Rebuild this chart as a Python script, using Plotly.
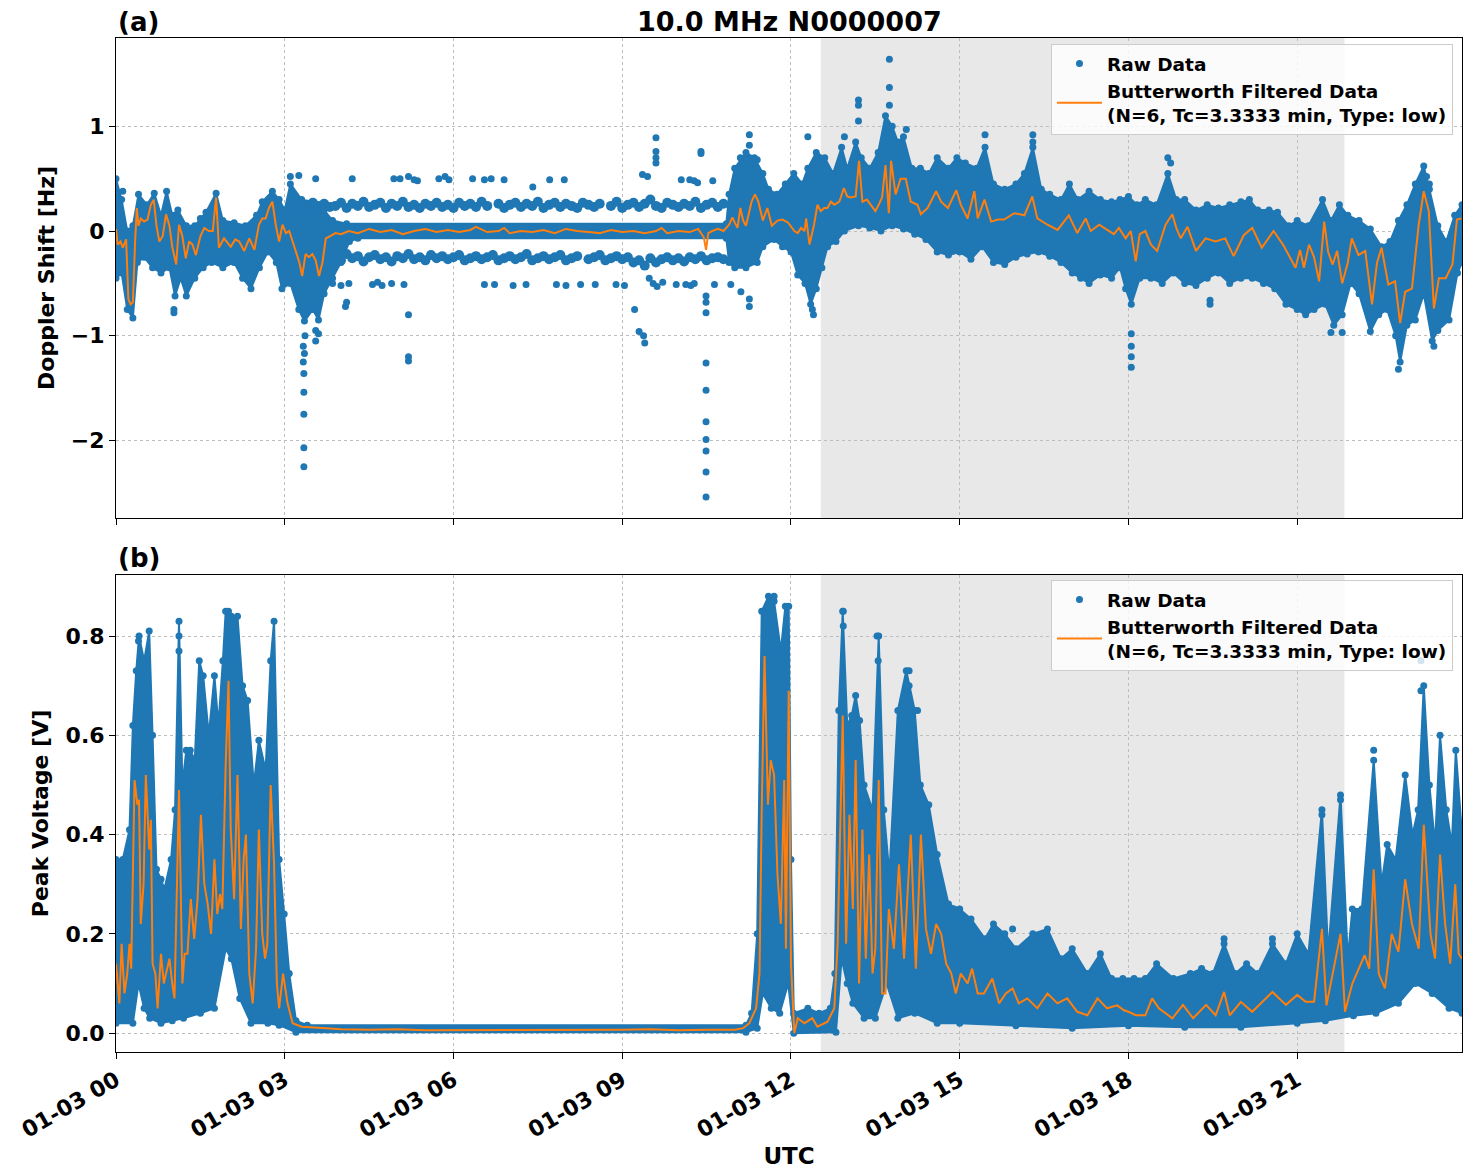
import plotly.graph_objects as go

# ---------------- data (hours after 01-03 00:00 UTC, value) ----------------
# Panel (a): Doppler shift [Hz]
dop_filtered = [
    (0.00, 0.02), (0.03, -0.13), (0.08, -0.10), (0.12, -0.16), (0.18, -0.08), (0.22, -0.65),
    (0.26, -0.70), (0.30, -0.68), (0.34, -0.10), (0.37, 0.22), (0.40, 0.05), (0.44, 0.12),
    (0.50, 0.09), (0.56, 0.11), (0.62, 0.25), (0.67, 0.30), (0.72, 0.05), (0.77, -0.10),
    (0.83, -0.05), (0.89, 0.16), (0.95, 0.05), (1.00, -0.15), (1.07, -0.32), (1.12, 0.06),
    (1.18, -0.05), (1.24, -0.26), (1.30, -0.10), (1.36, -0.13), (1.42, -0.23), (1.50, -0.05),
    (1.57, 0.03), (1.65, 0.00), (1.72, 0.00), (1.78, 0.32), (1.83, -0.16), (1.92, -0.07),
    (2.04, -0.15), (2.12, -0.08), (2.19, -0.10), (2.28, -0.19), (2.37, -0.07), (2.46, -0.18),
    (2.54, 0.06), (2.60, 0.12), (2.66, 0.12), (2.72, 0.22), (2.78, 0.28), (2.84, 0.06),
    (2.90, -0.10), (2.96, 0.06), (3.02, -0.02), (3.08, 0.00), (3.14, -0.10), (3.20, -0.19),
    (3.26, -0.30), (3.31, -0.43), (3.37, -0.22), (3.43, -0.25), (3.49, -0.22), (3.55, -0.28),
    (3.61, -0.43), (3.67, -0.30), (3.73, -0.07), (3.80, -0.05), (3.90, -0.02), (4.00, -0.03),
    (4.14, 0.00), (4.30, -0.02), (4.50, 0.02), (4.70, -0.01), (4.90, 0.01), (5.10, -0.03),
    (5.30, 0.00), (5.50, 0.02), (5.70, -0.01), (5.90, 0.01), (6.10, -0.01), (6.30, 0.01),
    (6.40, 0.04), (6.60, -0.01), (6.80, 0.00), (6.90, 0.03), (7.00, -0.02), (7.20, 0.00),
    (7.40, -0.01), (7.60, 0.01), (7.80, -0.02), (8.00, 0.02), (8.20, 0.00), (8.40, -0.01),
    (8.60, -0.02), (8.80, 0.01), (9.00, -0.01), (9.20, 0.00), (9.40, -0.02), (9.60, 0.00),
    (9.70, 0.03), (9.80, -0.02), (10.00, 0.00), (10.20, -0.01), (10.35, 0.02), (10.45, -0.06),
    (10.49, -0.18), (10.53, -0.02), (10.60, 0.00), (10.70, 0.02), (10.80, 0.00), (10.90, 0.06),
    (10.96, 0.13), (11.00, 0.08), (11.05, 0.03), (11.10, 0.22), (11.15, 0.10), (11.20, 0.05),
    (11.30, 0.28), (11.36, 0.35), (11.42, 0.28), (11.50, 0.10), (11.58, 0.22), (11.66, 0.05),
    (11.76, 0.10), (11.85, 0.11), (11.95, 0.08), (12.06, 0.00), (12.12, -0.02), (12.18, 0.03),
    (12.24, 0.00), (12.27, 0.12), (12.33, -0.13), (12.41, 0.06), (12.47, 0.25), (12.53, 0.19),
    (12.59, 0.22), (12.65, 0.22), (12.71, 0.28), (12.77, 0.25), (12.86, 0.28), (12.94, 0.41),
    (13.00, 0.33), (13.06, 0.32), (13.15, 0.33), (13.21, 0.67), (13.27, 0.28), (13.35, 0.30),
    (13.42, 0.25), (13.50, 0.19), (13.56, 0.25), (13.62, 0.32), (13.68, 0.63), (13.74, 0.17),
    (13.78, 0.67), (13.86, 0.35), (13.95, 0.50), (14.04, 0.50), (14.13, 0.28), (14.25, 0.25),
    (14.31, 0.16), (14.43, 0.22), (14.58, 0.38), (14.67, 0.28), (14.79, 0.22), (14.94, 0.39),
    (15.02, 0.25), (15.14, 0.12), (15.26, 0.38), (15.32, 0.12), (15.44, 0.30), (15.56, 0.09),
    (15.68, 0.11), (15.79, 0.11), (15.97, 0.17), (16.15, 0.15), (16.29, 0.33), (16.38, 0.12),
    (16.56, 0.06), (16.74, 0.01), (16.94, 0.15), (17.09, -0.02), (17.24, 0.12), (17.33, 0.00),
    (17.48, 0.06), (17.60, 0.02), (17.74, -0.03), (17.83, 0.03), (17.95, -0.07), (18.04, 0.00),
    (18.13, -0.29), (18.20, -0.03), (18.30, 0.00), (18.40, -0.13), (18.51, -0.19), (18.66, 0.06),
    (18.78, 0.16), (18.85, 0.03), (18.93, -0.07), (19.05, 0.04), (19.20, -0.19), (19.37, -0.07),
    (19.55, -0.10), (19.72, -0.07), (19.87, -0.24), (20.05, -0.04), (20.20, 0.03), (20.37, -0.16),
    (20.58, 0.00), (20.76, -0.14), (20.97, -0.35), (21.05, -0.18), (21.12, -0.35), (21.21, -0.13),
    (21.30, -0.25), (21.39, -0.48), (21.48, 0.09), (21.55, -0.20), (21.63, -0.32), (21.71, -0.19),
    (21.80, -0.50), (21.90, -0.30), (21.97, -0.07), (22.09, -0.23), (22.21, -0.19), (22.33, -0.70),
    (22.42, -0.30), (22.50, -0.16), (22.62, -0.51), (22.74, -0.48), (22.83, -0.88), (22.92, -0.58),
    (23.04, -0.55), (23.16, 0.06), (23.25, 0.38), (23.34, 0.19), (23.43, -0.74), (23.52, -0.45),
    (23.64, -0.45), (23.76, -0.32), (23.84, 0.11), (23.92, 0.12),
]
dop_raw_upper = [
    (0.00, 0.50), (0.10, 0.30), (0.20, 0.00), (0.30, 0.05), (0.40, 0.35), (0.55, 0.25),
    (0.68, 0.36), (0.80, 0.15), (0.90, 0.38), (1.00, 0.15), (1.10, 0.20), (1.25, 0.05),
    (1.40, 0.05), (1.50, 0.12), (1.60, 0.18), (1.78, 0.36), (1.90, 0.10), (2.10, 0.08),
    (2.30, 0.05), (2.50, 0.15), (2.60, 0.28), (2.78, 0.38), (2.90, 0.30), (3.00, 0.20),
    (3.10, 0.45), (3.30, 0.30), (3.50, 0.28), (3.70, 0.20), (3.85, 0.10), (4.10, 0.07),
    (10.85, 0.07), (10.90, 0.35), (11.00, 0.60), (11.20, 0.75), (11.35, 0.70), (11.50, 0.55),
    (11.60, 0.40), (11.75, 0.35), (11.90, 0.45), (12.05, 0.55), (12.20, 0.45), (12.30, 0.60),
    (12.45, 0.75), (12.60, 0.70), (12.75, 0.55), (12.90, 0.80), (13.00, 0.60), (13.15, 0.85),
    (13.25, 0.70), (13.40, 0.60), (13.55, 0.75), (13.68, 1.10), (13.80, 1.00), (13.90, 0.85),
    (14.00, 0.90), (14.15, 0.60), (14.30, 0.60), (14.45, 0.55), (14.60, 0.70), (14.80, 0.60),
    (14.95, 0.70), (15.10, 0.65), (15.30, 0.60), (15.45, 0.80), (15.60, 0.45), (15.80, 0.40),
    (16.00, 0.45), (16.15, 0.55), (16.30, 0.80), (16.45, 0.40), (16.60, 0.35), (16.80, 0.30),
    (16.95, 0.45), (17.10, 0.30), (17.30, 0.38), (17.50, 0.30), (17.70, 0.28), (17.85, 0.30),
    (18.00, 0.33), (18.15, 0.25), (18.30, 0.30), (18.50, 0.25), (18.70, 0.55), (18.85, 0.30),
    (19.00, 0.30), (19.20, 0.20), (19.40, 0.25), (19.60, 0.22), (19.80, 0.25), (20.00, 0.28),
    (20.15, 0.30), (20.30, 0.20), (20.50, 0.20), (20.65, 0.18), (20.85, 0.05), (21.00, 0.10),
    (21.20, 0.05), (21.45, 0.30), (21.60, 0.10), (21.75, 0.25), (21.90, 0.15), (22.10, 0.10),
    (22.30, 0.02), (22.50, -0.15), (22.65, -0.10), (22.80, 0.10), (22.95, 0.25), (23.10, 0.45),
    (23.25, 0.62), (23.35, 0.40), (23.50, 0.05), (23.65, -0.10), (23.80, 0.15), (23.93, 0.25),
]
dop_raw_lower = [
    (0.00, -0.45), (0.10, -0.40), (0.20, -0.75), (0.30, -0.83), (0.38, -0.30), (0.50, -0.25),
    (0.65, -0.35), (0.80, -0.40), (0.95, -0.35), (1.05, -0.62), (1.15, -0.45), (1.25, -0.62),
    (1.40, -0.45), (1.55, -0.35), (1.70, -0.30), (1.90, -0.35), (2.10, -0.30), (2.25, -0.45),
    (2.40, -0.55), (2.55, -0.35), (2.70, -0.20), (2.85, -0.30), (2.95, -0.55), (3.10, -0.50),
    (3.25, -0.75), (3.35, -0.86), (3.50, -0.75), (3.60, -0.85), (3.70, -0.60), (3.85, -0.45),
    (4.00, -0.30), (4.15, -0.10), (4.30, -0.07), (10.85, -0.07), (10.90, -0.30), (11.00, -0.35),
    (11.20, -0.35), (11.40, -0.30), (11.50, -0.15), (11.70, -0.08), (11.85, -0.15), (12.00, -0.20),
    (12.12, -0.42), (12.25, -0.50), (12.35, -0.70), (12.45, -0.55), (12.55, -0.35), (12.65, -0.15),
    (12.80, -0.10), (12.95, 0.00), (13.20, 0.05), (13.40, 0.03), (13.60, 0.00), (13.80, 0.05),
    (14.00, 0.02), (14.20, -0.03), (14.40, -0.08), (14.60, -0.20), (14.80, -0.23), (15.00, -0.20),
    (15.20, -0.27), (15.40, -0.15), (15.60, -0.30), (15.80, -0.32), (16.00, -0.25), (16.20, -0.22),
    (16.40, -0.20), (16.60, -0.24), (16.80, -0.30), (17.00, -0.40), (17.15, -0.45), (17.30, -0.50),
    (17.50, -0.42), (17.70, -0.45), (17.85, -0.35), (17.95, -0.55), (18.05, -0.70), (18.20, -0.45),
    (18.40, -0.45), (18.60, -0.50), (18.80, -0.40), (19.00, -0.50), (19.20, -0.52), (19.40, -0.45),
    (19.60, -0.40), (19.80, -0.50), (20.00, -0.45), (20.20, -0.45), (20.40, -0.50), (20.60, -0.55),
    (20.80, -0.70), (21.00, -0.75), (21.15, -0.80), (21.30, -0.75), (21.50, -0.70), (21.65, -0.90),
    (21.80, -0.80), (21.95, -0.50), (22.10, -0.60), (22.30, -0.96), (22.45, -0.80), (22.60, -0.75),
    (22.75, -1.00), (22.83, -1.25), (22.95, -0.90), (23.10, -0.85), (23.25, -0.60), (23.40, -1.05),
    (23.50, -0.95), (23.70, -0.85), (23.85, -0.40), (23.93, -0.30),
]
# quantised side bands of raw Doppler samples (about +/-0.25 Hz) during the quiet night
dop_row_plus = [
    (3.30, 0.25), (3.40, 0.22), (3.50, 0.27), (3.60, 0.24), (3.70, 0.26), (3.80, 0.23),
    (3.90, 0.24), (4.00, 0.27), (4.10, 0.22), (4.20, 0.26), (4.30, 0.24), (4.40, 0.28), (4.50, 0.23),
    (4.60, 0.25), (4.70, 0.27), (4.80, 0.22), (4.90, 0.26), (5.00, 0.24), (5.10, 0.28), (5.20, 0.23),
    (5.30, 0.25), (5.40, 0.22), (5.50, 0.26), (5.60, 0.24), (5.70, 0.27), (5.80, 0.23), (5.90, 0.25),
    (6.00, 0.22), (6.10, 0.27), (6.20, 0.24), (6.30, 0.26), (6.40, 0.23), (6.50, 0.28), (6.60, 0.24),
    (6.80, 0.26), (6.90, 0.22), (7.00, 0.25), (7.10, 0.27), (7.20, 0.23), (7.30, 0.26), (7.40, 0.24),
    (7.50, 0.28), (7.60, 0.22), (7.70, 0.25), (7.80, 0.27), (7.90, 0.23), (8.00, 0.26), (8.10, 0.24),
    (8.20, 0.22), (8.30, 0.27), (8.40, 0.25), (8.50, 0.23), (8.60, 0.26), (8.80, 0.24), (8.90, 0.28),
    (9.00, 0.22), (9.10, 0.25), (9.20, 0.27), (9.30, 0.23), (9.40, 0.26), (9.50, 0.30), (9.60, 0.24),
    (9.70, 0.22), (9.80, 0.27), (9.90, 0.25), (10.00, 0.23), (10.10, 0.26), (10.20, 0.24), (10.30, 0.28),
    (10.40, 0.22), (10.50, 0.25), (10.60, 0.27), (10.70, 0.23), (10.80, 0.26),
]
dop_row_minus = [
    (3.80, -0.26), (3.90, -0.24), (4.00, -0.28), (4.10, -0.22), (4.20, -0.26), (4.30, -0.24), (4.40, -0.29), (4.50, -0.25),
    (4.60, -0.23), (4.70, -0.27), (4.80, -0.25), (4.90, -0.29), (5.00, -0.24), (5.10, -0.26), (5.20, -0.22),
    (5.30, -0.27), (5.40, -0.25), (5.50, -0.28), (5.60, -0.23), (5.70, -0.26), (5.80, -0.24), (5.90, -0.27),
    (6.00, -0.25), (6.10, -0.23), (6.20, -0.28), (6.30, -0.26), (6.40, -0.24), (6.50, -0.27), (6.60, -0.25),
    (6.70, -0.23), (6.80, -0.28), (6.90, -0.26), (7.00, -0.24), (7.10, -0.27), (7.20, -0.25), (7.30, -0.22),
    (7.40, -0.28), (7.50, -0.26), (7.60, -0.24), (7.70, -0.27), (7.80, -0.25), (7.90, -0.23), (8.00, -0.28),
    (8.10, -0.26), (8.20, -0.24), (8.40, -0.27), (8.50, -0.25), (8.60, -0.23), (8.70, -0.28), (8.80, -0.26),
    (8.90, -0.24), (9.00, -0.27), (9.10, -0.25), (9.20, -0.30), (9.30, -0.28), (9.40, -0.33), (9.50, -0.26),
    (9.60, -0.30), (9.70, -0.27), (9.80, -0.25), (9.90, -0.28), (10.00, -0.26), (10.10, -0.29), (10.20, -0.25),
    (10.30, -0.27), (10.40, -0.24), (10.50, -0.28), (10.60, -0.26), (10.70, -0.25), (10.80, -0.27),
]
dop_raw_scatter = [
    (0.12, 0.38), (1.03, -0.78), (1.03, -0.75), (3.10, 0.52), (3.25, 0.53), (3.55, 0.50),
    (3.34, -2.25), (3.34, -2.07), (3.34, -1.75), (3.34, -1.54), (3.34, -1.36), (3.33, -1.25),
    (3.35, -1.17), (3.33, -1.10), (3.36, -1.00), (3.55, -1.05), (3.55, -0.95), (3.60, -0.98),
    (4.08, -0.72), (4.10, -0.68), (4.20, 0.50), (4.94, 0.50), (5.05, 0.50), (5.20, 0.52),
    (5.30, 0.49), (5.36, 0.48), (5.74, 0.50), (5.85, 0.52), (5.92, 0.49),
    (3.85, -0.50), (4.00, -0.52), (4.14, -0.50), (4.56, -0.51), (4.65, -0.49), (4.73, -0.52),
    (4.90, -0.50), (5.12, -0.51), (5.20, -0.80), (5.20, -1.20), (5.20, -1.24),
    (6.34, 0.50), (6.55, 0.49), (6.67, 0.50), (6.90, 0.49), (7.41, 0.42), (7.71, 0.49),
    (7.97, 0.49), (9.36, 0.54), (9.45, 0.52), (10.05, 0.49), (10.20, 0.49), (10.28, 0.48),
    (10.34, 0.46), (10.61, 0.48), (9.60, 0.89), (9.60, 0.76), (9.60, 0.70), (9.60, 0.65),
    (10.40, 0.76), (10.40, 0.74),
    (6.55, -0.51), (6.73, -0.51), (7.06, -0.52), (7.29, -0.51), (7.83, -0.51), (8.00, -0.52),
    (8.26, -0.51), (8.52, -0.51), (8.89, -0.51), (9.04, -0.52), (9.48, -0.45), (9.55, -0.50),
    (9.62, -0.53), (9.72, -0.49), (9.96, -0.51), (10.13, -0.51), (10.22, -0.52), (10.28, -0.50),
    (10.64, -0.51), (10.93, -0.51), (11.11, -0.58),
    (9.22, -0.75), (9.30, -0.96), (9.38, -1.00), (9.40, -1.07),
    (10.49, -0.62), (10.49, -0.68), (10.49, -0.78), (10.49, -1.26), (10.49, -1.52), (10.49, -1.82),
    (10.49, -1.99), (10.49, -2.10), (10.49, -2.30), (10.49, -2.54),
    (11.26, 0.92), (11.26, 0.82), (11.26, -0.72), (11.26, -0.65), (11.10, 0.70), (11.40, 0.68),
    (12.30, 0.90), (12.95, 0.90), (13.20, 1.25), (13.20, 1.20), (13.20, 1.05),
    (13.75, 1.64), (13.75, 1.37), (13.75, 1.20), (14.05, 0.97), (15.45, 0.92), (16.30, 0.92),
    (16.30, 0.85), (12.40, -0.80), (12.38, -0.75),
    (18.05, -1.30), (18.05, -1.20), (18.05, -1.10), (18.05, -0.98), (18.70, 0.70), (18.75, 0.65),
    (19.45, -0.70), (19.45, -0.66), (21.60, -0.97), (21.80, -0.97), (22.80, -1.32), (23.30, 0.52),
    (23.35, 0.45), (23.43, -1.10),
]

# Panel (b): peak voltage [V]
volt_filtered = [
    (0.00, 0.14), (0.06, 0.06), (0.10, 0.18), (0.15, 0.08), (0.20, 0.12), (0.24, 0.18),
    (0.27, 0.13), (0.33, 0.51), (0.38, 0.46), (0.41, 0.47), (0.44, 0.22), (0.49, 0.30),
    (0.53, 0.52), (0.59, 0.37), (0.62, 0.43), (0.65, 0.14), (0.70, 0.12), (0.74, 0.05),
    (0.80, 0.16), (0.85, 0.10), (0.89, 0.12), (0.95, 0.15), (1.00, 0.10), (1.04, 0.07),
    (1.12, 0.49), (1.18, 0.10), (1.22, 0.16), (1.27, 0.16), (1.33, 0.27), (1.39, 0.19),
    (1.45, 0.27), (1.51, 0.44), (1.57, 0.30), (1.63, 0.26), (1.69, 0.20), (1.75, 0.35),
    (1.80, 0.24), (1.85, 0.28), (1.89, 0.25), (1.95, 0.54), (2.00, 0.71), (2.04, 0.41),
    (2.10, 0.27), (2.16, 0.52), (2.22, 0.21), (2.27, 0.35), (2.31, 0.40), (2.37, 0.12),
    (2.43, 0.06), (2.49, 0.17), (2.54, 0.41), (2.60, 0.20), (2.65, 0.15), (2.69, 0.18),
    (2.75, 0.50), (2.81, 0.34), (2.86, 0.10), (2.90, 0.05), (2.97, 0.12), (3.05, 0.06),
    (3.14, 0.02), (3.30, 0.013), (3.60, 0.011), (4.00, 0.008), (4.50, 0.007), (5.00, 0.008),
    (5.50, 0.006), (6.00, 0.006), (7.00, 0.006), (8.00, 0.006), (9.00, 0.007), (9.50, 0.008),
    (10.00, 0.006), (10.50, 0.007), (11.00, 0.007), (11.15, 0.010), (11.26, 0.020), (11.38, 0.05),
    (11.44, 0.12), (11.48, 0.45), (11.53, 0.76), (11.59, 0.46), (11.64, 0.55), (11.70, 0.52),
    (11.76, 0.32), (11.82, 0.22), (11.88, 0.51), (11.91, 0.17), (11.96, 0.69), (12.00, 0.14),
    (12.06, 0.00), (12.12, 0.03), (12.24, 0.02), (12.38, 0.03), (12.47, 0.013), (12.65, 0.023),
    (12.77, 0.05), (12.83, 0.18), (12.89, 0.45), (12.92, 0.64), (12.98, 0.18), (13.04, 0.44),
    (13.10, 0.25), (13.15, 0.55), (13.21, 0.10), (13.27, 0.41), (13.33, 0.15), (13.39, 0.36),
    (13.45, 0.12), (13.50, 0.17), (13.56, 0.51), (13.62, 0.08), (13.68, 0.08), (13.74, 0.25),
    (13.83, 0.17), (13.92, 0.34), (14.01, 0.15), (14.13, 0.40), (14.22, 0.13), (14.31, 0.40),
    (14.40, 0.21), (14.49, 0.16), (14.58, 0.22), (14.67, 0.20), (14.76, 0.14), (14.85, 0.12),
    (14.93, 0.08), (15.02, 0.12), (15.14, 0.10), (15.22, 0.13), (15.32, 0.08), (15.43, 0.08),
    (15.58, 0.11), (15.70, 0.06), (15.82, 0.08), (15.94, 0.09), (16.05, 0.06), (16.20, 0.07),
    (16.38, 0.05), (16.56, 0.08), (16.74, 0.06), (16.91, 0.07), (17.09, 0.043), (17.27, 0.036),
    (17.45, 0.07), (17.62, 0.05), (17.80, 0.056), (17.92, 0.046), (18.00, 0.043), (18.13, 0.036),
    (18.30, 0.036), (18.42, 0.07), (18.54, 0.05), (18.78, 0.03), (18.97, 0.057), (19.15, 0.03),
    (19.38, 0.057), (19.55, 0.036), (19.70, 0.083), (19.80, 0.036), (20.00, 0.063), (20.20, 0.043),
    (20.56, 0.083), (20.80, 0.057), (21.00, 0.077), (21.15, 0.063), (21.30, 0.063), (21.44, 0.21),
    (21.52, 0.056), (21.77, 0.20), (21.85, 0.043), (21.98, 0.10), (22.20, 0.157), (22.28, 0.13),
    (22.36, 0.33), (22.45, 0.12), (22.56, 0.09), (22.68, 0.20), (22.80, 0.164), (22.92, 0.31),
    (23.04, 0.22), (23.16, 0.17), (23.25, 0.42), (23.37, 0.20), (23.45, 0.15), (23.54, 0.36),
    (23.63, 0.22), (23.72, 0.14), (23.81, 0.30), (23.87, 0.16), (23.93, 0.15),
]
volt_raw_upper = [
    (0.00, 0.35), (0.12, 0.35), (0.24, 0.41), (0.30, 0.62), (0.36, 0.73), (0.41, 0.80),
    (0.50, 0.75), (0.59, 0.81), (0.65, 0.60), (0.72, 0.33), (0.80, 0.31), (0.86, 0.29),
    (0.98, 0.35), (1.05, 0.45), (1.12, 0.83), (1.18, 0.50), (1.25, 0.57), (1.32, 0.57),
    (1.40, 0.55), (1.48, 0.75), (1.55, 0.72), (1.65, 0.60), (1.75, 0.72), (1.82, 0.62),
    (1.90, 0.75), (1.95, 0.85), (2.05, 0.84), (2.16, 0.84), (2.25, 0.70), (2.34, 0.67),
    (2.45, 0.50), (2.54, 0.59), (2.66, 0.53), (2.75, 0.75), (2.81, 0.83), (2.90, 0.35),
    (2.99, 0.24), (3.08, 0.12), (3.20, 0.025), (3.40, 0.016), (11.20, 0.016), (11.30, 0.04),
    (11.40, 0.20), (11.48, 0.85), (11.60, 0.88), (11.70, 0.87), (11.82, 0.77), (11.90, 0.86),
    (11.96, 0.86), (12.00, 0.35), (12.05, 0.04), (12.30, 0.05), (12.50, 0.04), (12.70, 0.05),
    (12.78, 0.12), (12.85, 0.65), (12.92, 0.85), (13.00, 0.62), (13.08, 0.64), (13.15, 0.68),
    (13.22, 0.63), (13.30, 0.50), (13.45, 0.45), (13.56, 0.80), (13.65, 0.45), (13.75, 0.32),
    (13.90, 0.65), (14.05, 0.73), (14.20, 0.65), (14.30, 0.50), (14.45, 0.46), (14.60, 0.36),
    (14.80, 0.26), (15.00, 0.25), (15.20, 0.23), (15.45, 0.19), (15.60, 0.22), (15.80, 0.20),
    (16.00, 0.17), (16.30, 0.20), (16.56, 0.21), (16.80, 0.15), (17.00, 0.17), (17.27, 0.12),
    (17.50, 0.16), (17.70, 0.11), (17.90, 0.11), (18.10, 0.11), (18.30, 0.11), (18.50, 0.14),
    (18.80, 0.11), (19.10, 0.12), (19.30, 0.13), (19.50, 0.12), (19.70, 0.18), (19.90, 0.12),
    (20.10, 0.14), (20.30, 0.12), (20.56, 0.18), (20.80, 0.14), (21.00, 0.20), (21.20, 0.16),
    (21.44, 0.45), (21.55, 0.16), (21.77, 0.48), (21.90, 0.15), (21.98, 0.25), (22.15, 0.25),
    (22.36, 0.55), (22.50, 0.30), (22.60, 0.38), (22.75, 0.35), (22.92, 0.52), (23.05, 0.40),
    (23.15, 0.45), (23.25, 0.70), (23.35, 0.50), (23.45, 0.38), (23.54, 0.60), (23.65, 0.45),
    (23.75, 0.38), (23.82, 0.57), (23.93, 0.40),
]
volt_raw_lower = [
    (0.00, 0.02), (0.30, 0.02), (0.40, 0.10), (0.50, 0.05), (0.60, 0.03), (0.80, 0.02),
    (1.00, 0.025), (1.20, 0.03), (1.50, 0.04), (1.75, 0.05), (1.95, 0.17), (2.05, 0.15),
    (2.20, 0.07), (2.40, 0.02), (2.70, 0.02), (2.90, 0.016), (3.20, 0.002), (11.20, 0.002),
    (11.40, 0.010), (11.50, 0.08), (11.65, 0.05), (11.80, 0.04), (11.95, 0.10), (12.05, 0.00),
    (12.80, 0.002), (12.90, 0.15), (13.00, 0.10), (13.10, 0.06), (13.30, 0.03), (13.50, 0.03),
    (13.70, 0.10), (13.90, 0.03), (14.20, 0.04), (14.60, 0.02), (15.00, 0.02), (16.00, 0.015),
    (17.00, 0.010), (18.00, 0.015), (19.00, 0.012), (20.00, 0.012), (21.00, 0.02), (21.50, 0.025),
    (22.00, 0.035), (22.40, 0.04), (22.80, 0.06), (23.10, 0.10), (23.40, 0.08), (23.70, 0.05),
    (23.93, 0.04),
]
volt_raw_scatter = [
    (1.12, 0.80), (1.12, 0.77), (0.40, 0.79), (2.00, 0.85), (11.70, 0.88), (12.93, 0.85),
    (12.93, 0.82), (13.53, 0.80), (13.55, 0.75), (14.10, 0.73), (14.10, 0.70), (14.25, 0.65),
    (22.36, 0.57), (23.20, 0.75), (23.20, 0.69), (21.77, 0.47), (21.44, 0.44), (15.94, 0.21),
    (14.90, 0.25), (19.70, 0.19), (20.56, 0.19),
]

event_window = (12.53, 21.84)            # shaded interval (hours)
x_tick_hours = [0, 3, 6, 9, 12, 15, 18, 21]
x_tick_labels = ["01-03 00", "01-03 03", "01-03 06", "01-03 09",
                 "01-03 12", "01-03 15", "01-03 18", "01-03 21"]
dop_ticks = [-2, -1, 0, 1]
volt_ticks = [0.0, 0.2, 0.4, 0.6, 0.8]

title_text = "10.0 MHz N0000007"
filt_name = "Butterworth Filtered Data<br>(N=6, Tc=3.3333 min, Type: low)"

# ---------------- figure ----------------
BLUE = "#1f77b4"
ORANGE = "#ff7f0e"
FONT = "DejaVu Sans"


def unzip(pairs):
    return [p[0] for p in pairs], [p[1] for p in pairs]


fig = go.Figure()


def add_panel(upper, lower, rows, extra, filtered, xa, ya, legend):
    ut, uv = unzip(upper)
    lt, lv = unzip(lower)
    # dense cloud of raw samples: area between the upper and lower raw envelopes
    fig.add_trace(go.Scatter(x=ut + lt[::-1], y=uv + lv[::-1], fill="toself", mode="lines",
                             fillcolor=BLUE, line=dict(color=BLUE, width=2),
                             showlegend=False, hoverinfo="skip", xaxis=xa, yaxis=ya))
    if rows:
        rt, rv = unzip(rows)
        fig.add_trace(go.Scatter(x=rt, y=rv, mode="markers", showlegend=False,
                                 marker=dict(color=BLUE, size=10), hoverinfo="skip",
                                 xaxis=xa, yaxis=ya))
    et, ev = unzip(upper + lower + extra)
    fig.add_trace(go.Scatter(x=et, y=ev, mode="markers", name="Raw Data",
                             marker=dict(color=BLUE, size=7), xaxis=xa, yaxis=ya,
                             legend=legend))
    ft, fv = unzip(filtered)
    fig.add_trace(go.Scatter(x=ft, y=fv, mode="lines", name=filt_name,
                             line=dict(color=ORANGE, width=2), xaxis=xa, yaxis=ya,
                             legend=legend))


add_panel(dop_raw_upper, dop_raw_lower, dop_row_plus + dop_row_minus, dop_raw_scatter,
          dop_filtered, "x", "y", "legend")
add_panel(volt_raw_upper, volt_raw_lower, [], volt_raw_scatter, volt_filtered, "x2", "y2", "legend2")

axis_common = dict(showline=True, linecolor="black", linewidth=1, mirror=True,
                   ticks="outside", ticklen=6, tickwidth=1, tickcolor="black",
                   showgrid=True, gridcolor="#bdbdbd", griddash="dot", gridwidth=1,
                   zeroline=False, tickfont=dict(family=FONT, size=22, color="black", weight="bold"))

top_dom = [(1052 - 518) / 1014, 1.0]
bot_dom = [0.0, (1052 - 575) / 1014]

legend_common = dict(xanchor="right", yanchor="top", bgcolor="rgba(255,255,255,0.8)",
                     bordercolor="#cccccc", borderwidth=1, itemwidth=45, tracegroupgap=0,
                     font=dict(family=FONT, size=18.5, weight="bold"))

fig.update_layout(
    width=1472, height=1172,
    margin=dict(l=116, r=10, t=38, b=120),
    paper_bgcolor="white", plot_bgcolor="white",
    font=dict(family=FONT, color="black"),
    xaxis=dict(axis_common, domain=[0, 1], anchor="y", range=[0, 23.93],
               tickvals=x_tick_hours, showticklabels=False, matches="x2"),
    yaxis=dict(axis_common, domain=top_dom, anchor="x", range=[-2.74, 1.843],
               tickvals=dop_ticks,
               title=dict(text="Doppler Shift [Hz]", standoff=10,
                          font=dict(family=FONT, size=22, weight="bold"))),
    xaxis2=dict(axis_common, domain=[0, 1], anchor="y2", range=[0, 23.93],
                tickvals=x_tick_hours, ticktext=x_tick_labels, tickangle=-30,
                tickfont=dict(family=FONT, size=22, color="black", weight="bold"),
                title=dict(text="UTC", standoff=4,
                           font=dict(family=FONT, size=23, weight="bold"))),
    yaxis2=dict(axis_common, domain=bot_dom, anchor="x2", range=[-0.038, 0.923],
                tickvals=volt_ticks, tickformat=".1f",
                title=dict(text="Peak Voltage [V]", standoff=10,
                           font=dict(family=FONT, size=22, weight="bold"))),
    legend=dict(legend_common, x=0.9933, y=0.994),
    legend2=dict(legend_common, x=0.9933, y=(1052 - 580) / 1014),
    shapes=[
        dict(type="rect", xref="x", yref="y domain", x0=event_window[0], x1=event_window[1],
             y0=0, y1=1, fillcolor="#e8e8e8", line=dict(width=0), layer="below"),
        dict(type="rect", xref="x2", yref="y2 domain", x0=event_window[0], x1=event_window[1],
             y0=0, y1=1, fillcolor="#e8e8e8", line=dict(width=0), layer="below"),
    ],
    annotations=[
        dict(text=title_text, xref="paper", yref="paper", x=0.5, y=1 + 16 / 1014,
             xanchor="center", yanchor="middle", showarrow=False,
             font=dict(family=FONT, size=27, weight="bold")),
        dict(text="(a)", xref="paper", yref="paper", x=0, y=1 + 16 / 1014,
             xanchor="left", yanchor="middle", showarrow=False,
             font=dict(family=FONT, size=26, weight="bold")),
        dict(text="(b)", xref="paper", yref="paper", x=0, y=(1052 - 558) / 1014,
             xanchor="left", yanchor="middle", showarrow=False,
             font=dict(family=FONT, size=26, weight="bold")),
    ],
)

fig.write_html("out.html")
